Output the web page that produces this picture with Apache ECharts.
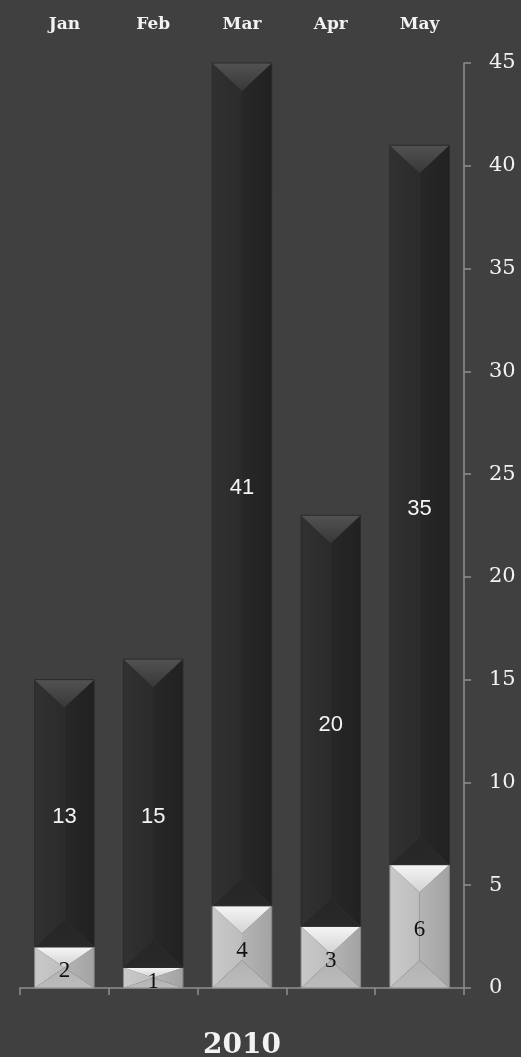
<!DOCTYPE html>
<html>
<head>
<meta charset="utf-8">
<script src="https://cdn.jsdelivr.net/npm/echarts@6/dist/echarts.min.js"></script>
<style>
html,body{margin:0;padding:0;background:#404040;}
#chart{width:521px;height:1057px;}
</style>
</head>
<body>
<div id="chart"></div>
<script>
const categories = ['Jan', 'Feb', 'Mar', 'Apr', 'May'];
const lightValues = [2, 1, 4, 3, 6];
const darkValues = [13, 15, 41, 20, 35];
const yTicks = { min: 0, max: 45, interval: 5 };
const xTitle = '2010';

const axisColor = '#8f8f8f';
const textColor = '#f2f2f2';

function lg(x0, y0, x1, y1, c0, c1) {
  return { type: 'linear', x: x0, y: y0, x2: x1, y2: y1, global: false,
    colorStops: [{ offset: 0, color: c0 }, { offset: 1, color: c1 }] };
}

const palettes = {
  light: {
    top: lg(0, 0, 0, 1, '#f6f6f6', '#d2d2d2'),
    left: lg(0, 0, 1, 0, '#c9c9c9', '#bdbdbd'),
    right: lg(0, 0, 1, 0, '#b4b4b4', '#a3a3a3'),
    bottom: lg(0, 0, 0, 1, '#b2b2b2', '#bcbcbc'),
    edge: '#8a8a8a',
    label: '#111111',
    font: '23px "Liberation Serif", serif'
  },
  dark: {
    top: lg(0, 0, 0, 1, '#525252', '#383838'),
    left: lg(0, 0, 1, 0, '#313131', '#2b2b2b'),
    right: lg(0, 0, 1, 0, '#272727', '#212121'),
    bottom: lg(0, 0, 0, 1, '#262626', '#292929'),
    edge: '#2a2a2a',
    label: '#f4f4f4',
    font: '22px "Liberation Sans", sans-serif'
  }
};

function makeRender(kind) {
  const pal = palettes[kind];
  return function (params, api) {
    const ci = api.value(0), base = api.value(1), v = api.value(2);
    const pb = api.coord([ci, base]);
    const pt = api.coord([ci, base + v]);
    const bw = api.size([1, 0])[0] * 0.67;
    const x0 = pb[0] - bw / 2, x1 = pb[0] + bw / 2, xc = pb[0];
    const yb = pb[1], yt = pt[1], h = yb - yt;
    const b = Math.min(bw / 2 * 0.93, h / 2);
    const children = [
      { type: 'polygon', shape: { points: [[x0, yt], [xc, yt + b], [xc, yb - b], [x0, yb]] }, style: { fill: pal.left } },
      { type: 'polygon', shape: { points: [[x1, yt], [xc, yt + b], [xc, yb - b], [x1, yb]] }, style: { fill: pal.right } },
      { type: 'polygon', shape: { points: [[x0, yt], [x1, yt], [xc, yt + b]] }, style: { fill: pal.top } },
      { type: 'polygon', shape: { points: [[x0, yb], [x1, yb], [xc, yb - b]] }, style: { fill: pal.bottom } },
      { type: 'rect', shape: { x: x0, y: yt, width: bw, height: h }, style: { fill: 'none', stroke: pal.edge, lineWidth: 1 } },
      { type: 'text', style: { text: String(v), x: xc, y: (yt + yb) / 2 + 4, align: 'center', verticalAlign: 'middle', fill: pal.label, font: pal.font } }
    ];
    return { type: 'group', children: children };
  };
}

const lightData = categories.map((c, i) => [i, 0, lightValues[i]]);
const darkData = categories.map((c, i) => [i, lightValues[i], darkValues[i]]);

const chart = echarts.init(document.getElementById('chart'));
chart.setOption({
  backgroundColor: '#404040',
  animation: false,
  grid: { left: 20, right: 57, top: 63, bottom: 69, containLabel: false, outerBoundsMode: 'none' },
  xAxis: [
    {
      type: 'category', data: categories, position: 'bottom',
      axisLine: { show: true, lineStyle: { color: axisColor, width: 1.5 } },
      axisTick: { show: true, length: 7, lineStyle: { color: axisColor, width: 1.5 } },
      axisLabel: { show: false },
      splitLine: { show: false },
      name: xTitle, nameLocation: 'middle', nameGap: 44,
      nameTextStyle: { color: textColor, fontFamily: '"DejaVu Serif", serif', fontWeight: 'bold', fontSize: 28 }
    },
    {
      type: 'category', data: categories, position: 'top',
      axisLine: { show: false }, axisTick: { show: false },
      axisLabel: { color: textColor, fontFamily: '"DejaVu Serif", serif', fontWeight: 'bold', fontSize: 17, margin: 30 },
      splitLine: { show: false }
    }
  ],
  yAxis: {
    type: 'value', position: 'right', min: yTicks.min, max: yTicks.max, interval: yTicks.interval,
    axisLine: { show: true, lineStyle: { color: axisColor, width: 1.5 } },
    axisTick: { show: true, length: 7, lineStyle: { color: axisColor, width: 1.5 } },
    axisLabel: { color: textColor, fontFamily: '"DejaVu Serif", serif', fontSize: 21, margin: 25, padding: [8, 0, 0, 0] },
    splitLine: { show: false }
  },
  series: [
    { type: 'custom', xAxisIndex: 0, renderItem: makeRender('light'), data: lightData, encode: { x: 0, y: [1, 2] } },
    { type: 'custom', xAxisIndex: 0, renderItem: makeRender('dark'), data: darkData, encode: { x: 0, y: [1, 2] } }
  ]
});
</script>
</body>
</html>
